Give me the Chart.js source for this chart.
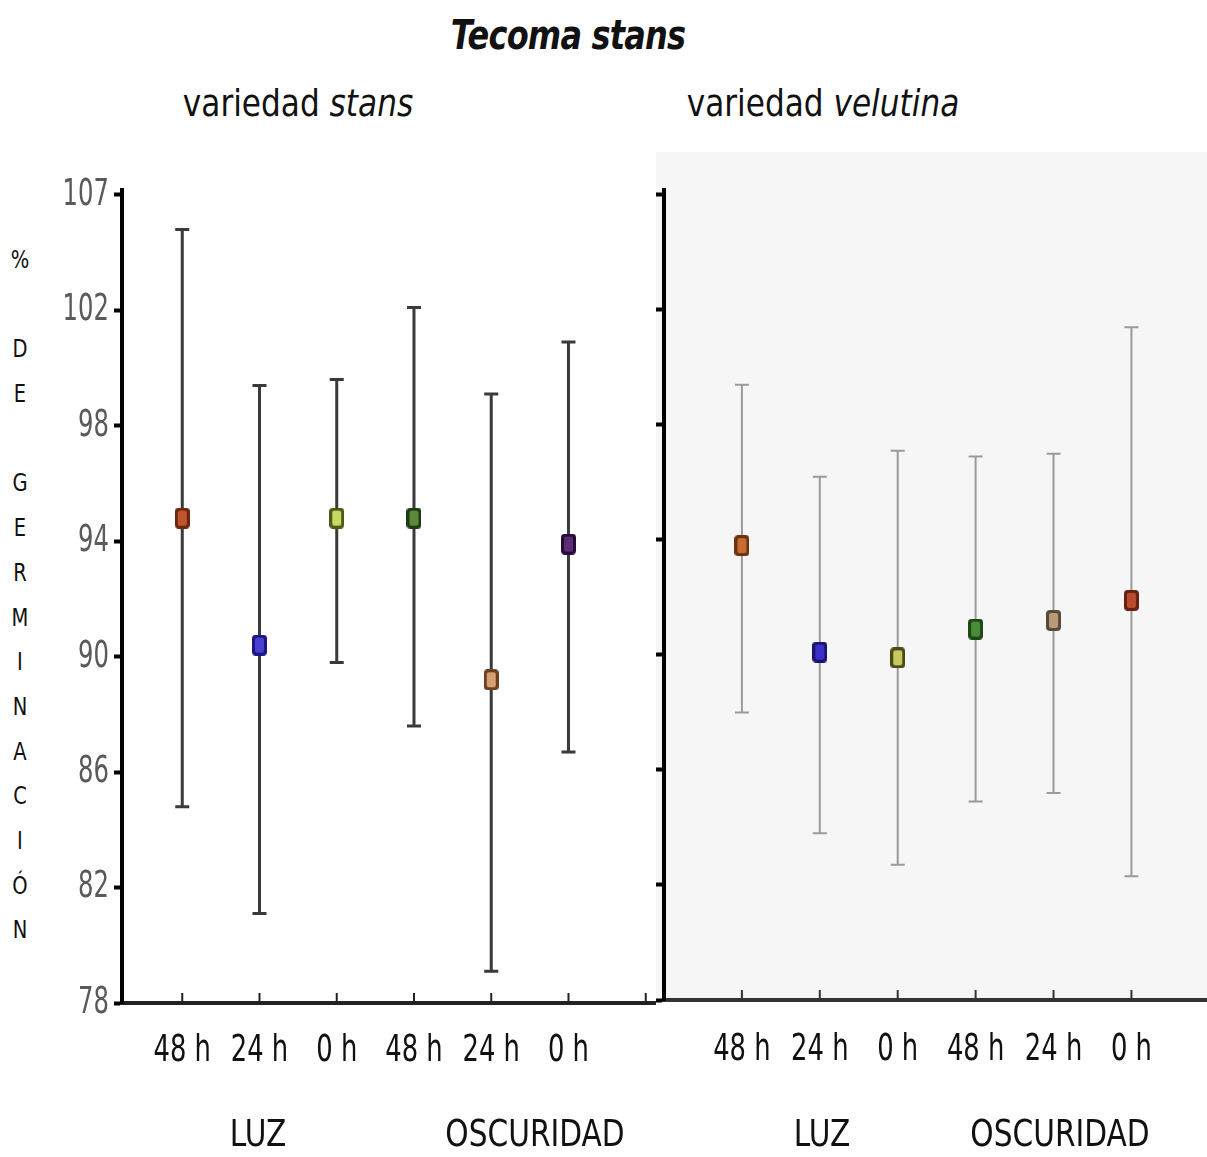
<!DOCTYPE html>
<html>
<head>
<meta charset="utf-8">
<script src="https://cdn.jsdelivr.net/npm/chart.js@4.4.1/dist/chart.umd.min.js"></script>
<style>
  body { margin: 0; background: #fff; width: 1207px; height: 1157px; position: relative; overflow: hidden;
         font-family: "DejaVu Sans", sans-serif; color: #111; }
  .txt { position: absolute; white-space: nowrap; transform: translate(-50%, -50%) scaleX(0.82); }
  .panel { position: absolute; }
  #ylab { position: absolute; left: 20px; top: 238px; width: 0; font-size: 25px; line-height: 44.7px; color: #111; }
  #ylab div { transform: translateX(-50%) scaleX(0.78); width: 30px; text-align: center; height: 44.7px; }
</style>
</head>
<body>
<div class="txt" style="left:568px;top:35px;font-weight:bold;font-style:italic;font-size:40px;letter-spacing:-1px;transform:translate(-50%,-50%) scaleX(0.8);">Tecoma stans</div>
<div class="txt" style="left:298px;top:103px;font-size:38px;">variedad <i>stans</i></div>
<div class="txt" style="left:823px;top:103px;font-size:38px;">variedad <i>velutina</i></div>
<div id="ylab"></div>

<div class="panel" style="left:0;top:150px;"><canvas id="left" width="660" height="1000"></canvas></div>
<div class="panel" style="left:640px;top:150px;"><canvas id="right" width="567" height="1000"></canvas></div>

<div class="txt" style="left:258px;top:1133px;font-size:38px;transform:translate(-50%,-50%) scaleX(0.78);">LUZ</div>
<div class="txt" style="left:535px;top:1133px;font-size:38px;transform:translate(-50%,-50%) scaleX(0.78);">OSCURIDAD</div>
<div class="txt" style="left:822px;top:1133px;font-size:38px;transform:translate(-50%,-50%) scaleX(0.78);">LUZ</div>
<div class="txt" style="left:1060px;top:1133px;font-size:38px;transform:translate(-50%,-50%) scaleX(0.78);">OSCURIDAD</div>

<script>
const categories = ['48 h', '24 h', '0 h', '48 h', '24 h', '0 h'];
const yTicks = [78, 82, 86, 90, 94, 98, 102, 106];
const yTickLabels = ['78', '82', '86', '90', '94', '98', '102', '107'];
const yTitle = ['%', '', 'D', 'E', '', 'G', 'E', 'R', 'M', 'I', 'N', 'A', 'C', 'I', 'Ó', 'N'];

// variedad stans
const stansMean  = [94.8, 90.4, 94.8, 94.8, 89.2, 93.9];
const stansUpper = [104.8, 99.4, 99.6, 102.1, 99.1, 100.9];
const stansLower = [84.8, 81.1, 89.8, 87.6, 79.1, 86.7];
const stansFill   = ['#c4542c', '#4a40d0', '#c8d862', '#5c8a3c', '#d6a072', '#5a2c72'];
const stansBorder = ['#6a2810', '#1c1682', '#4a5a18', '#1e3c10', '#6a4020', '#280a3a'];

// variedad velutina
const velMean  = [93.8, 90.1, 89.9, 90.9, 91.2, 91.9];
const velUpper = [99.4, 96.2, 97.1, 96.9, 97.0, 101.4];
const velLower = [88.0, 83.8, 82.7, 84.9, 85.2, 82.3];
const velFill   = ['#c86c34', '#3a30c8', '#c8c862', '#4c8a3c', '#b89c7a', '#b84c2c'];
const velBorder = ['#6a3210', '#1a1470', '#4a4a18', '#1a4a12', '#5a4a38', '#6a2010'];

const FONT = '"DejaVu Sans", sans-serif';

const ylab = document.getElementById('ylab');
yTitle.forEach(ch => { const d = document.createElement('div'); d.textContent = ch; ylab.appendChild(d); });

function makeMarker(fill, stroke, w, h) {
  const c = document.createElement('canvas');
  c.width = w; c.height = h;
  const g = c.getContext('2d');
  g.fillStyle = stroke;
  g.beginPath(); g.roundRect(0, 0, w, h, 4); g.fill();
  g.fillStyle = fill;
  g.beginPath(); g.roundRect(3, 3, w - 6, h - 6, 2); g.fill();
  return c;
}

// narrow tick labels, placed with the chart's own scales
const narrowLabels = {
  id: 'narrowLabels',
  afterDraw(chart, args, opts) {
    const ctx = chart.ctx, x = chart.scales.x, y = chart.scales.y, a = chart.chartArea;
    ctx.save();
    ctx.textAlign = 'center';
    ctx.textBaseline = 'middle';
    ctx.fillStyle = '#111';
    ctx.font = '38px ' + FONT;
    categories.forEach((c, i) => {
      ctx.save();
      ctx.translate(x.getPixelForValue(i + 1), a.bottom + opts.xOffset);
      ctx.scale(0.68, 1);
      ctx.fillText(c, 0, 0);
      ctx.restore();
    });
    if (opts.yLabels) {
      ctx.textAlign = 'right';
      ctx.fillStyle = '#5a5a5a';
      yTicks.forEach((v, i) => {
        ctx.save();
        ctx.translate(a.left - 13, y.getPixelForValue(v));
        ctx.scale(0.64, 1);
        ctx.fillText(yTickLabels[i], 0, 0);
        ctx.restore();
      });
    }
    ctx.restore();
  }
};

const errorBars = {
  id: 'errorBars',
  beforeDatasetsDraw(chart, args, opts) {
    const ctx = chart.ctx, x = chart.scales.x, y = chart.scales.y;
    const ds = chart.data.datasets[0];
    ctx.save();
    ctx.strokeStyle = opts.color;
    ctx.lineWidth = opts.width;
    ds.data.forEach((p, i) => {
      const px = x.getPixelForValue(p.x);
      const top = y.getPixelForValue(ds.upper[i]);
      const bot = y.getPixelForValue(ds.lower[i]);
      ctx.beginPath();
      ctx.moveTo(px, top); ctx.lineTo(px, bot);
      ctx.moveTo(px - opts.cap, top); ctx.lineTo(px + opts.cap, top);
      ctx.moveTo(px - opts.cap, bot); ctx.lineTo(px + opts.cap, bot);
      ctx.stroke();
    });
    // inward tick marks on the category axis
    ctx.strokeStyle = opts.tickColor;
    ctx.lineWidth = 2;
    opts.xTicks.forEach(v => {
      const px = x.getPixelForValue(v);
      ctx.beginPath();
      ctx.moveTo(px, chart.chartArea.bottom);
      ctx.lineTo(px, chart.chartArea.bottom - 10);
      ctx.stroke();
    });
    ctx.restore();
  }
};

const panelBg = {
  id: 'panelBg',
  beforeDraw(chart, args, opts) {
    if (!opts.color) return;
    const a = chart.chartArea, ctx = chart.ctx;
    ctx.save();
    ctx.fillStyle = opts.color;
    ctx.fillRect(a.left - 8, a.top - 38, chart.width - a.left + 8, a.bottom - a.top + 38);
    ctx.restore();
  }
};

function buildChart(id, opt) {
  const points = opt.mean.map((m, i) => ({ x: i + 1, y: m }));
  return new Chart(document.getElementById(id), {
    type: 'scatter',
    data: {
      datasets: [{
        data: points,
        upper: opt.upper,
        lower: opt.lower,
        pointStyle: opt.fill.map((f, i) => makeMarker(f, opt.border[i], 15, 21)),
        pointRadius: 10,
        pointHoverRadius: 10
      }]
    },
    plugins: [panelBg, errorBars, narrowLabels],
    options: {
      responsive: false,
      animation: false,
      devicePixelRatio: 1,
      layout: { autoPadding: false, padding: { top: 40, right: opt.padRight, left: 0, bottom: 0 } },
      plugins: {
        legend: { display: false },
        tooltip: { enabled: false },
        panelBg: { color: opt.bg },
        narrowLabels: { xOffset: opt.labelOffset, yLabels: opt.yLabels },
        errorBars: { color: opt.barColor, width: opt.barWidth, cap: 7, tickColor: opt.axisColor, xTicks: opt.xTicks }
      },
      scales: {
        x: {
          type: 'linear',
          min: opt.xMin, max: opt.xMax,
          afterBuildTicks: s => { s.ticks = categories.map((c, i) => ({ value: i + 1 })); },
          afterFit: s => { s.height = opt.xHeight; },
          grid: { drawOnChartArea: false, drawTicks: false },
          border: { color: opt.axisColor, width: 4 },
          ticks: { display: false }
        },
        y: {
          min: 78, max: 106.17,
          afterBuildTicks: s => { s.ticks = yTicks.map(v => ({ value: v })); },
          afterFit: s => { s.width = opt.yWidth; },
          grid: { drawOnChartArea: false, tickLength: 8, tickWidth: 4, color: '#000' },
          border: { color: '#000', width: 4 },
          ticks: { display: false }
        }
      }
    }
  });
}

buildChart('left', {
  mean: stansMean, upper: stansUpper, lower: stansLower, fill: stansFill, border: stansBorder,
  xMin: 0.22, xMax: 7.12, xTicks: [1, 2, 3, 4, 5, 6, 7], xHeight: 147, yWidth: 122, padRight: 5,
  labelOffset: 48, yLabels: true, bg: null, barColor: '#3a3a3a', barWidth: 3, axisColor: '#222'
});

buildChart('right', {
  mean: velMean, upper: velUpper, lower: velLower, fill: velFill, border: velBorder,
  xMin: 0, xMax: 6.97, xTicks: [1, 2, 3, 4, 5, 6], xHeight: 150, yWidth: 24, padRight: 0,
  labelOffset: 50, yLabels: false, bg: '#f6f6f6', barColor: '#9a9a9a', barWidth: 2, axisColor: '#333'
});
</script>
</body>
</html>
